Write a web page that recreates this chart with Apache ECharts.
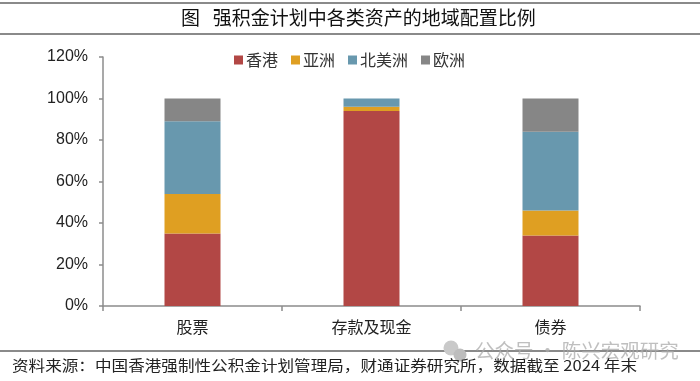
<!DOCTYPE html>
<html><head><meta charset="utf-8">
<script src="https://cdn.jsdelivr.net/npm/echarts@6/dist/echarts.min.js"></script>
<style>html,body{margin:0;padding:0;background:#fff}#c{width:700px;height:381px}</style></head>
<body><div id="c"></div>
<script>
const categories = ['股票','存款及现金','债券'];
const hongKong = [35,94,34];
const asia = [19,2,12];
const northAmerica = [35,4,38];
const europe = [11,0,16];
const yTicks = [0,20,40,60,80,100,120];
const seriesNames = ['香港','亚洲','北美洲','欧洲'];
const colors = ['#B24745','#DF9F22','#6898AE','#868686'];
const titleText = '图   强积金计划中各类资产的地域配置比例';
const sourceText = '资料来源\uFF1A中国香港强制性公积金计划管理局\uFF0C财通证券研究所\uFF0C数据截至 2024 年末';
const watermark = '公众号 · 陈兴宏观研究';
const cjk = '"Noto Sans CJK SC","Noto Sans",sans-serif';
const values = [hongKong, asia, northAmerica, europe];
const chart = echarts.init(document.getElementById('c'), null, {renderer:'canvas'});
chart.setOption({
  animation:false,
  backgroundColor:'#fff',
  color:colors,
  title:{text:titleText,left:181,top:8,padding:0,textStyle:{fontFamily:cjk,fontSize:19,fontWeight:'normal',color:'#111'}},
  legend:{top:52,left:234,padding:0,itemWidth:9,itemHeight:9,itemGap:13,icon:'rect',
    data:seriesNames,textStyle:{fontFamily:cjk,fontSize:16,color:'#333',padding:[0,0,0,-2]}},
  grid:{left:103,right:60,top:57,bottom:75},
  xAxis:{type:'category',data:categories,
    axisLine:{lineStyle:{color:'#8c8c8c',width:1.5}},
    axisTick:{show:true,length:5,lineStyle:{color:'#8c8c8c',width:1.5}},
    axisLabel:{fontFamily:cjk,fontSize:16,color:'#222',margin:13}},
  yAxis:{type:'value',min:0,max:120,interval:20,
    axisLine:{show:true,lineStyle:{color:'#8c8c8c',width:1.5}},
    axisTick:{show:true,length:4,lineStyle:{color:'#8c8c8c',width:1.5}},
    splitLine:{show:false},
    axisLabel:{fontFamily:'"Liberation Sans",Arial,sans-serif',fontSize:16,color:'#222',margin:15,
      formatter:v=>yTicks.includes(v)?v+'%':''}},
  series:seriesNames.map((n,i)=>({name:n,type:'bar',stack:'total',barWidth:56,data:values[i]})),
  graphic:[
    {type:'rect',silent:true,shape:{x:0,y:2,width:700,height:2},style:{fill:'#8a8a8a'}},
    {type:'rect',silent:true,shape:{x:0,y:33,width:700,height:2},style:{fill:'#8a8a8a'}},
    {type:'rect',silent:true,shape:{x:0,y:350,width:700,height:2},style:{fill:'#8a8a8a'}},
    {type:'circle',silent:true,shape:{cx:451,cy:348,r:7.5},style:{fill:'#c9c9c9'}},
    {type:'circle',silent:true,shape:{cx:460,cy:355,r:6.5},style:{fill:'#bdbdbd'}},
    {type:'text',silent:true,left:475,top:341,style:{text:watermark,fontFamily:cjk,fontSize:19.5,fill:'rgba(170,170,170,0.75)'}},
    {type:'text',silent:true,x:12,y:358,scaleY:0.88,style:{text:sourceText,fontFamily:cjk,fontSize:16.6,fill:'#222'}}
  ]
});
</script></body></html>
